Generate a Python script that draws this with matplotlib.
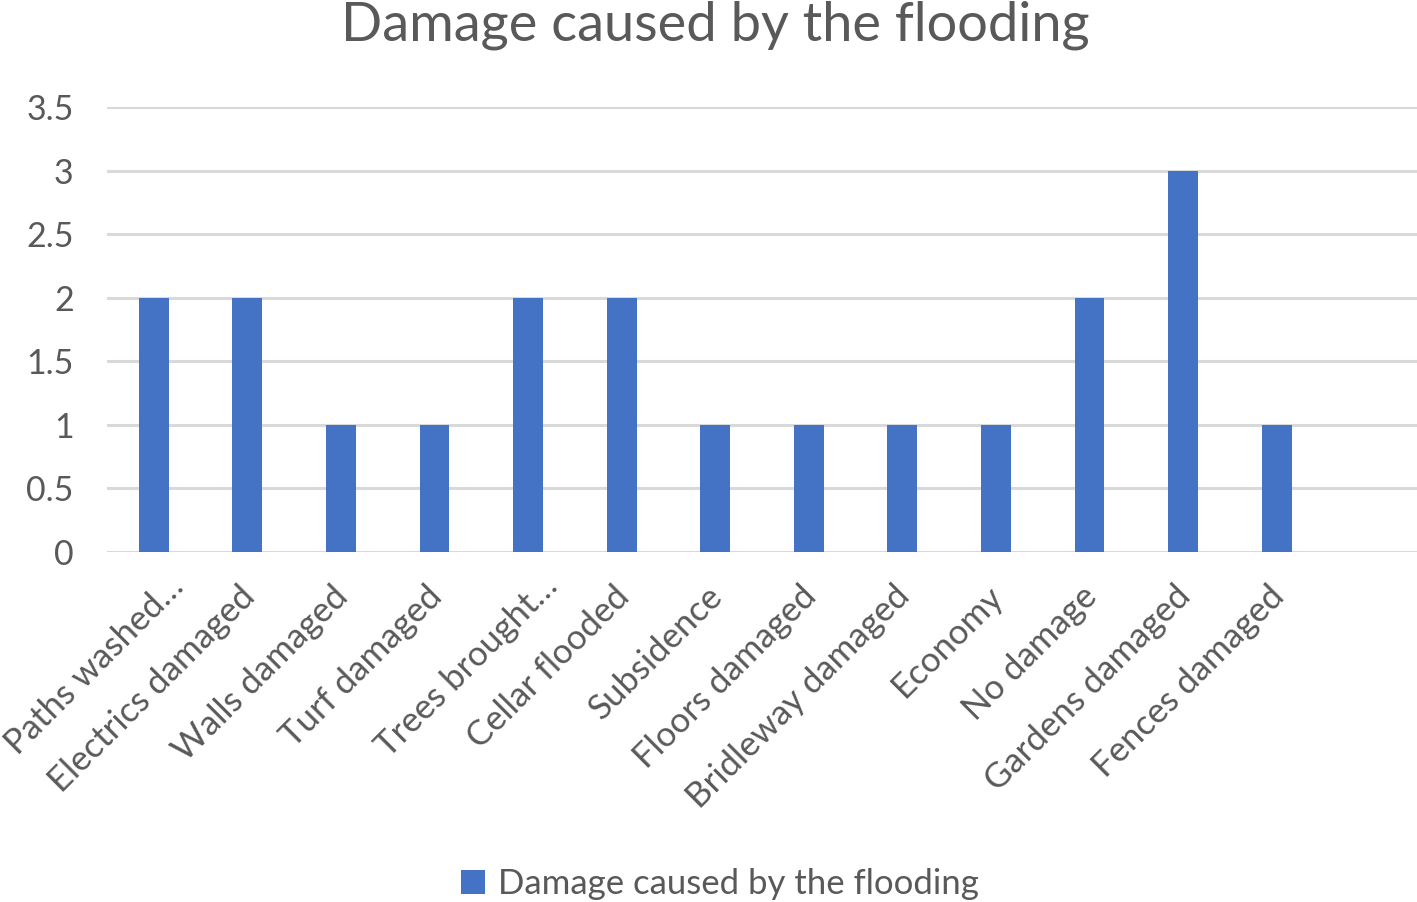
import matplotlib
matplotlib.use("Agg")
import matplotlib.pyplot as plt
import matplotlib.transforms as mtransforms
from matplotlib.patches import Patch

# Chart data
categories = ["Paths washed…", "Electrics damaged", "Walls damaged", "Turf damaged",
              "Trees brought…", "Cellar flooded", "Subsidence", "Floors damaged",
              "Bridleway damaged", "Economy", "No damage", "Gardens damaged",
              "Fences damaged"]
values = [2, 2, 1, 1, 2, 2, 1, 1, 1, 1, 2, 3, 1]
yticks = [0, 0.5, 1, 1.5, 2, 2.5, 3, 3.5]
ytick_labels = ["0", "0.5", "1", "1.5", "2", "2.5", "3", "3.5"]

bar_color = "#4472C4"
text_color = "#595959"
grid_color = "#D9D9D9"

plt.rcParams['font.family'] = ['Lato', 'DejaVu Sans']

fig = plt.figure(figsize=(14.17, 9.02), dpi=100)
ax = fig.add_axes([0.0755, 0.388, 0.9245, 0.493])

x = list(range(len(categories)))
ax.bar(x, values, width=0.32, color=bar_color, zorder=3)

ax.set_ylim(0, 3.5)
ax.set_xlim(-0.5, 13.5)
ax.set_yticks(yticks)
ax.set_yticklabels(ytick_labels, fontsize=24.5, color=text_color)
ax.set_xticks(x)
ax.set_xticklabels(categories, fontsize=25, color=text_color,
                   rotation=45, ha='right', rotation_mode='anchor')
ax.tick_params(axis='both', length=0)
ax.tick_params(axis='y', pad=24)
ax.tick_params(axis='x', pad=20)

# nudge rotated labels slightly left; truncated ones sit further up-right
for lbl in ax.get_xticklabels():
    if lbl.get_text().endswith("…"):
        dx, dy = 0.13, 0.10
    else:
        dx, dy = -0.09, 0
    offset = mtransforms.ScaledTranslation(dx, dy, fig.dpi_scale_trans)
    lbl.set_transform(lbl.get_transform() + offset)

ax.grid(axis='y', color=grid_color, linewidth=2.2, zorder=0)
for s in ax.spines.values():
    s.set_visible(False)

fig.text(0.505, 0.972, "Damage caused by the flooding", fontsize=39,
         color=text_color, ha='center', va='center')

handle = Patch(facecolor=bar_color, edgecolor='none')
fig.legend([handle], ["Damage caused by the flooding"], loc='center',
           bbox_to_anchor=(0.508, 0.02), frameon=False, fontsize=25,
           labelcolor=text_color, handlelength=0.7, handleheight=0.7,
           handletextpad=0.35)

fig.savefig("out.png", dpi=100)
